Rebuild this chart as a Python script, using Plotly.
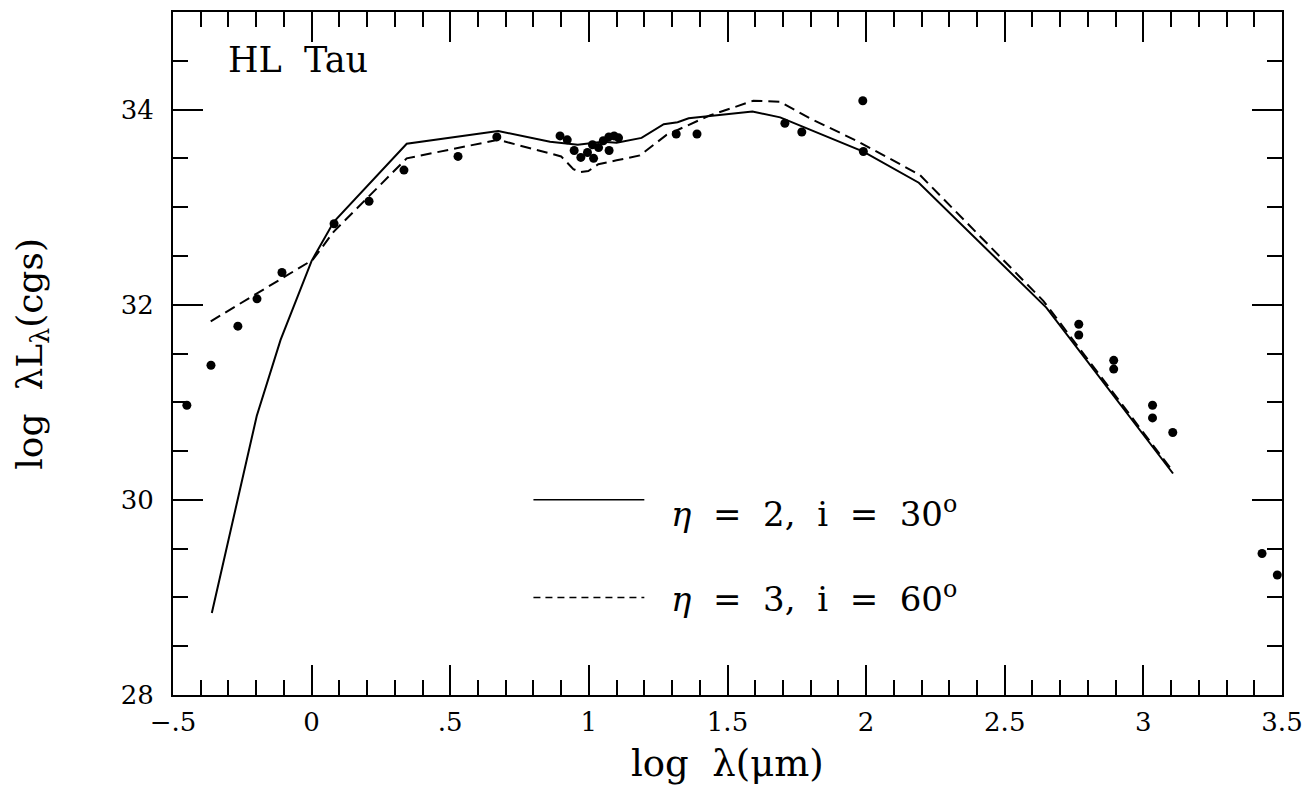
import plotly.graph_objects as go

# ---- data ----
obs_x = [-0.45, -0.363, -0.266, -0.197, -0.107, 0.081, 0.207, 0.333, 0.528, 0.668,
         0.896, 0.922, 0.947, 0.971, 0.995, 1.017, 1.013, 1.035, 1.052, 1.073,
         1.072, 1.091, 1.107, 1.315, 1.39, 1.707, 1.768, 1.988, 1.99,
         2.767, 2.767, 2.893, 2.893, 3.033, 3.033, 3.106, 3.428, 3.483]
obs_y = [30.97, 31.38, 31.78, 32.06, 32.33, 32.83, 33.06, 33.38, 33.52, 33.72,
         33.73, 33.69, 33.58, 33.51, 33.56, 33.50, 33.64, 33.61, 33.68, 33.58,
         33.72, 33.73, 33.71, 33.75, 33.75, 33.86, 33.77, 34.09, 33.57,
         31.80, 31.69, 31.43, 31.34, 30.97, 30.84, 30.69, 29.45, 29.23]

solid_x = [-0.36, -0.198, -0.112, 0.0, 0.08, 0.343, 0.673, 0.86, 0.96, 1.05, 1.10,
           1.19, 1.27, 1.32, 1.36, 1.59, 1.69, 1.99, 2.19, 2.65, 3.107]
solid_y = [28.84, 30.86, 31.64, 32.45, 32.85, 33.65, 33.78, 33.67, 33.64, 33.67, 33.66,
           33.71, 33.85, 33.87, 33.91, 33.98, 33.92, 33.57, 33.25, 31.97, 30.27]

dash_x = [-0.364, 0.004, 0.08, 0.343, 0.673, 0.86, 0.90, 0.944, 0.968, 0.998, 1.034,
          1.10, 1.184, 1.28, 1.364, 1.436, 1.593, 1.689, 1.797, 1.966, 2.194, 2.639, 3.107]
dash_y = [31.83, 32.46, 32.75, 33.50, 33.69, 33.55, 33.52, 33.39, 33.36, 33.37, 33.44,
          33.48, 33.53, 33.74, 33.85, 33.94, 34.09, 34.08, 33.91, 33.68, 33.33, 32.04, 30.29]

x_tickvals = [-0.5, 0, 0.5, 1, 1.5, 2, 2.5, 3, 3.5]
x_ticktext = ["\u2212.5", "0", ".5", "1", "1.5", "2", "2.5", "3", "3.5"]
y_tickvals = [28, 30, 32, 34]
y_ticktext = ["28", "30", "32", "34"]

SP = "\u00a0\u00a0"
label_solid = "<i>\u03b7</i>" + SP + "=" + SP + "2," + SP + "i" + SP + "=" + SP + "30<sup>o</sup>"
label_dash = "<i>\u03b7</i>" + SP + "=" + SP + "3," + SP + "i" + SP + "=" + SP + "60<sup>o</sup>"
key_x = [0.8, 1.2]
key_y = [30.0, 29.0]
key_text_y = [29.88, 29.0]
key_text_x = 1.29

FONT = "DejaVu Serif"

fig = go.Figure()
fig.add_trace(go.Scatter(x=solid_x, y=solid_y, mode="lines",
                         line=dict(color="black", width=2), showlegend=False))
fig.add_trace(go.Scatter(x=dash_x, y=dash_y, mode="lines",
                         line=dict(color="black", width=2, dash="11px,6px"), showlegend=False))
fig.add_trace(go.Scatter(x=obs_x, y=obs_y, mode="markers",
                         marker=dict(color="black", size=9), showlegend=False, cliponaxis=False))

# key lines
fig.add_shape(type="line", xref="x", yref="y", x0=key_x[0], x1=key_x[1], y0=key_y[0], y1=key_y[0],
              line=dict(color="black", width=1.5))
fig.add_shape(type="line", xref="x", yref="y", x0=key_x[0], x1=key_x[1], y0=key_y[1], y1=key_y[1],
              line=dict(color="black", width=1.5, dash="7px,5px"))

fig.add_annotation(x=key_text_x, y=key_text_y[0], xref="x", yref="y", text=label_solid,
                   showarrow=False, xanchor="left", yanchor="middle",
                   font=dict(family=FONT, size=34, color="black"))
fig.add_annotation(x=key_text_x, y=key_text_y[1], xref="x", yref="y", text=label_dash,
                   showarrow=False, xanchor="left", yanchor="middle",
                   font=dict(family=FONT, size=34, color="black"))
fig.add_annotation(x=-0.31, y=34.51, xref="x", yref="y", text="HL\u00a0\u00a0Tau",
                   showarrow=False, xanchor="left", yanchor="middle",
                   font=dict(family=FONT, size=35, color="black"))

# axis titles
fig.add_annotation(x=-0.127, y=0.5, xref="paper", yref="paper",
                   text="log" + SP + "\u03bbL<sub>\u03bb</sub>(cgs)", textangle=-90,
                   showarrow=False, xanchor="center", yanchor="middle",
                   font=dict(family=FONT, size=36, color="black"))
fig.add_annotation(x=0.5, y=-0.1, xref="paper", yref="paper",
                   text="log" + SP + "\u03bb(\u03bcm)",
                   showarrow=False, xanchor="center", yanchor="middle",
                   font=dict(family=FONT, size=37, color="black"))

axis_common = dict(showgrid=False, zeroline=False, showline=True, linecolor="black",
                   linewidth=2, mirror="allticks", ticks="inside", ticklen=30,
                   tickwidth=1.5, tickcolor="black",
                   tickfont=dict(family=FONT, size=26, color="black"))

fig.update_xaxes(range=[-0.5, 3.5], tickmode="array", tickvals=x_tickvals, ticktext=x_ticktext,
                 minor=dict(tickmode="linear", tick0=0, dtick=0.1, ticks="inside", ticklen=15,
                            tickwidth=1.5, tickcolor="black"),
                 ticklabelstandoff=3, **axis_common)
fig.update_yaxes(range=[28, 35], tickmode="array", tickvals=y_tickvals, ticktext=y_ticktext,
                 minor=dict(tickmode="linear", tick0=28, dtick=0.5, ticks="inside", ticklen=15,
                            tickwidth=1.5, tickcolor="black"),
                 ticklabelstandoff=12, **axis_common)

fig.update_layout(width=1307, height=780, plot_bgcolor="white", paper_bgcolor="white",
                  margin=dict(l=165, r=33, t=2, b=93), showlegend=False,
                  font=dict(family=FONT, color="black"))

fig.write_html("out.html")
